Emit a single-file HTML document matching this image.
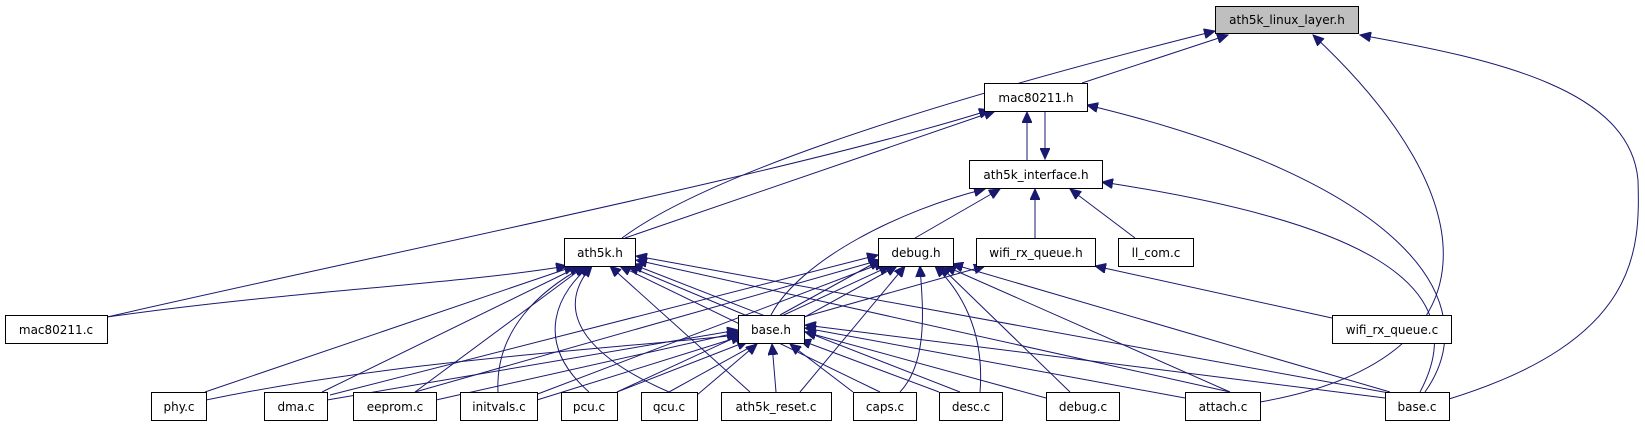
<!DOCTYPE html>
<html><head><meta charset="utf-8"><style>
html,body{margin:0;padding:0;background:#fff}
svg{display:block}
text{font-family:"DejaVu Sans","Liberation Sans",sans-serif;font-size:12px;fill:#000}
.n{fill:#fff;stroke:#000;stroke-width:1}
path{fill:none;stroke:#191970;stroke-width:1}
</style></head><body>
<svg width="1645" height="427" viewBox="0 0 1645 427" xmlns="http://www.w3.org/2000/svg">
<defs><marker id="a" markerUnits="userSpaceOnUse" markerWidth="12" markerHeight="10" refX="11" refY="5" orient="auto"><polygon points="0,0 11,5 0,10" fill="#191970" stroke="#191970"/></marker></defs>
<g marker-end="url(#a)">
<path d="M1082,83 L1228,35"/>
<path d="M622,238 C700,180 900,110 1215,31"/>
<path d="M1260,402 C1500,360 1490,200 1313,35"/>
<path d="M1449,399 C1640,340 1640,250 1638,180 C1630,90 1500,60 1360,35"/>
<path d="M1027,160 L1027,112"/>
<path d="M1045,111 L1045,159"/>
<path d="M107,317 C400,250 800,170 990,110"/>
<path d="M107,317 C300,290 450,285 567,266"/>
<path d="M625,238 L995,111"/>
<path d="M1425,392 C1490,300 1400,180 1087,105"/>
<path d="M915,238 L1000,189"/>
<path d="M1035,238 L1035,189"/>
<path d="M1135,238 L1070,189"/>
<path d="M771,315 C800,260 900,210 985,189"/>
<path d="M1420,392 C1480,280 1350,220 1102,182"/>
<path d="M205,392 L575,266"/>
<path d="M322,392 L580,266"/>
<path d="M415,392 L585,266"/>
<path d="M498,392 C495,330 540,290 585,266"/>
<path d="M589,392 C530,340 560,290 590,266"/>
<path d="M669,392 C550,340 570,290 592,266"/>
<path d="M750,392 L610,266"/>
<path d="M880,392 L620,266"/>
<path d="M745,315 L628,266"/>
<path d="M960,392 L632,264"/>
<path d="M1230,392 L636,260"/>
<path d="M1400,395 L636,256"/>
<path d="M780,315 L880,260"/>
<path d="M330,395 L878,255"/>
<path d="M415,392 L880,260"/>
<path d="M535,395 L885,262"/>
<path d="M617,392 L890,266"/>
<path d="M669,392 L897,266"/>
<path d="M800,392 L905,266"/>
<path d="M900,392 C930,360 922,300 920,266"/>
<path d="M980,392 C985,330 960,290 935,266"/>
<path d="M1070,392 L940,266"/>
<path d="M1230,392 L945,266"/>
<path d="M1390,392 L952,264"/>
<path d="M800,318 L985,266"/>
<path d="M1332,318 L1095,266"/>
<path d="M206,400 C400,360 600,350 738,335"/>
<path d="M327,400 L738,330"/>
<path d="M436,400 L740,332"/>
<path d="M537,400 L742,336"/>
<path d="M617,392 L748,341"/>
<path d="M697,395 L757,344"/>
<path d="M776,392 L772,344"/>
<path d="M853,392 L790,344"/>
<path d="M939,392 L800,340"/>
<path d="M1046,398 L805,332"/>
<path d="M1185,398 L805,328"/>
<path d="M1385,398 L805,325"/>
</g>
<rect x="1215.5" y="6.5" width="143" height="27" fill="#bfbfbf" stroke="#000"/><text x="1287" y="24" text-anchor="middle">ath5k_linux_layer.h</text>
<rect class="n" x="984.5" y="83.5" width="103" height="28"/><text x="1036" y="102" text-anchor="middle">mac80211.h</text>
<rect class="n" x="969.5" y="160.5" width="133" height="28"/><text x="1036" y="179" text-anchor="middle">ath5k_interface.h</text>
<rect class="n" x="564.5" y="238.5" width="71" height="28"/><text x="600" y="257" text-anchor="middle">ath5k.h</text>
<rect class="n" x="878.5" y="238.5" width="75" height="28"/><text x="916" y="257" text-anchor="middle">debug.h</text>
<rect class="n" x="976.5" y="238.5" width="119" height="28"/><text x="1036" y="257" text-anchor="middle">wifi_rx_queue.h</text>
<rect class="n" x="1118.5" y="238.5" width="75" height="28"/><text x="1156" y="257" text-anchor="middle">ll_com.c</text>
<rect class="n" x="5.5" y="315.5" width="102" height="28"/><text x="56" y="334" text-anchor="middle">mac80211.c</text>
<rect class="n" x="738.5" y="315.5" width="66" height="28"/><text x="771" y="334" text-anchor="middle">base.h</text>
<rect class="n" x="1332.5" y="315.5" width="119" height="28"/><text x="1392" y="334" text-anchor="middle">wifi_rx_queue.c</text>
<rect class="n" x="151.5" y="392.5" width="55" height="28"/><text x="179" y="411" text-anchor="middle">phy.c</text>
<rect class="n" x="264.5" y="392.5" width="63" height="28"/><text x="296" y="411" text-anchor="middle">dma.c</text>
<rect class="n" x="353.5" y="392.5" width="83" height="28"/><text x="395" y="411" text-anchor="middle">eeprom.c</text>
<rect class="n" x="460.5" y="392.5" width="77" height="28"/><text x="499" y="411" text-anchor="middle">initvals.c</text>
<rect class="n" x="561.5" y="392.5" width="56" height="28"/><text x="589" y="411" text-anchor="middle">pcu.c</text>
<rect class="n" x="641.5" y="392.5" width="56" height="28"/><text x="669" y="411" text-anchor="middle">qcu.c</text>
<rect class="n" x="721.5" y="392.5" width="110" height="28"/><text x="776" y="411" text-anchor="middle">ath5k_reset.c</text>
<rect class="n" x="853.5" y="392.5" width="63" height="28"/><text x="885" y="411" text-anchor="middle">caps.c</text>
<rect class="n" x="939.5" y="392.5" width="63" height="28"/><text x="971" y="411" text-anchor="middle">desc.c</text>
<rect class="n" x="1046.5" y="392.5" width="73" height="28"/><text x="1083" y="411" text-anchor="middle">debug.c</text>
<rect class="n" x="1185.5" y="392.5" width="75" height="28"/><text x="1223" y="411" text-anchor="middle">attach.c</text>
<rect class="n" x="1385.5" y="392.5" width="64" height="28"/><text x="1417" y="411" text-anchor="middle">base.c</text>
</svg>
</body></html>
